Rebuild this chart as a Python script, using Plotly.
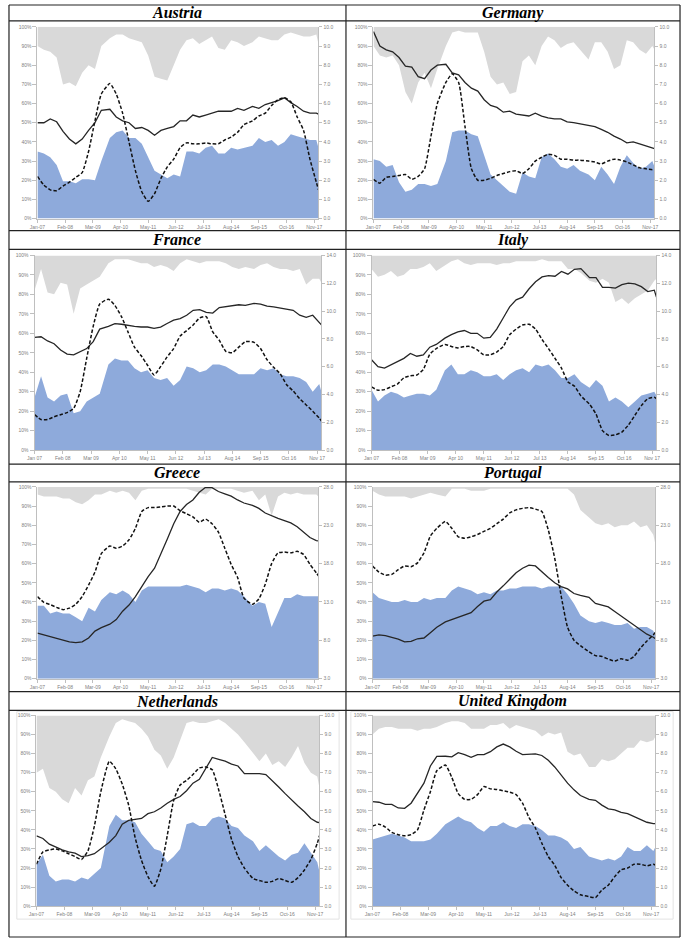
import plotly.graph_objects as go

# ---------------- data ----------------
# month index from Jan-07 (0) .. Jan-18 (132)
MONTHS = [0, 3, 6, 9, 12, 15, 18, 21, 24, 27, 30, 34, 37, 40, 43, 46, 49, 52, 55, 58, 61, 64, 67,
          70, 73, 76, 79, 82, 85, 88, 91, 94, 97, 101, 104, 107, 110, 113, 116, 119, 122, 125,
          128, 131, 132]
TICK_POS = [0, 13, 26, 39, 52, 65, 78, 91, 104, 117, 130]
TICKS_HYPHEN = ["Jan-07", "Feb-08", "Mar-09", "Apr-10", "May-11", "Jun-12", "Jul-13",
                "Aug-14", "Sep-15", "Oct-16", "Nov-17"]
TICKS_SPACE = ["Jan 07", "Feb 08", "Mar 09", "Apr 10", "May 11", "Jun 12", "Jul 13",
               "Aug 14", "Sep 15", "Oct 16", "Nov 17"]

AUT_BLUE = [35, 34, 32, 28, 19.5, 19.5, 18.5, 20.5, 20.5, 20, 30, 42, 45, 46, 42, 42, 39, 32, 25, 23,
            21, 23, 22, 35, 35, 34, 37, 38, 34, 34, 37, 36, 37, 38, 42, 40, 41, 38, 40, 44, 43, 42,
            41, 41, 37]
AUT_GREY = [90, 88, 87, 84, 70, 71, 69, 76, 80, 78, 90, 94, 96, 96, 94, 93, 92, 85, 74, 73, 72, 80,
            88, 93, 94, 91, 93, 95, 89, 88, 93, 92, 90, 92, 95, 94, 93, 93, 96, 97, 96, 95, 95, 96, 91]
AUT_SOLID = [5.0, 5.0, 5.2, 5.05, 4.55, 4.15, 3.9, 4.15, 4.6, 5.0, 5.65, 5.7, 5.3, 5.1, 5.0, 4.7,
             4.75, 4.6, 4.35, 4.6, 4.7, 4.8, 5.1, 5.1, 5.4, 5.3, 5.4, 5.5, 5.6, 5.6, 5.6, 5.75, 5.65,
             5.85, 5.75, 5.95, 6.05, 6.15, 6.3, 6.05, 5.85, 5.6, 5.5, 5.5, 5.45]
AUT_DASH = [2.2, 1.75, 1.5, 1.45, 1.7, 1.9, 2.15, 2.4, 3.5, 5.1, 6.5, 7.05, 6.5, 5.5, 4.0, 2.5, 1.4,
            0.9, 1.3, 2.1, 2.7, 3.1, 3.7, 3.95, 3.9, 3.9, 3.95, 3.9, 3.9, 4.1, 4.25, 4.5, 4.9, 5.1,
            5.35, 5.5, 5.9, 6.2, 6.3, 6.1, 5.3, 4.6, 3.1, 1.9, 1.5]

GER_BLUE = [31, 30, 27, 28, 19, 14, 15, 18, 18, 17, 18, 30, 45, 46, 46, 44, 43, 33, 23, 20, 17, 14,
            13, 24, 22, 21, 32, 34, 31, 27, 26, 28, 25, 23, 20, 27, 23, 18, 27, 33, 29, 26, 27, 30, 27]
GER_GREY = [90, 85, 84, 85, 80, 66, 60, 71, 76, 68, 78, 90, 97, 98, 97, 97, 97, 87, 74, 70, 71, 65,
            66, 82, 85, 80, 90, 95, 93, 89, 91, 92, 88, 83, 92, 92, 87, 78, 80, 93, 92, 88, 86, 90, 88]
GER_SOLID = [9.75, 9.0, 8.8, 8.7, 8.4, 7.95, 7.9, 7.4, 7.3, 7.75, 8.0, 8.05, 7.6, 7.5, 7.1, 6.8,
             6.65, 6.2, 5.9, 5.8, 5.55, 5.6, 5.45, 5.4, 5.35, 5.5, 5.35, 5.25, 5.2, 5.2, 5.05, 5.0,
             4.95, 4.85, 4.8, 4.65, 4.5, 4.3, 4.15, 3.95, 4.0, 3.9, 3.8, 3.7, 3.65]
GER_DASH = [2.05, 1.85, 2.15, 2.2, 2.25, 2.3, 2.05, 2.2, 2.6, 4.3, 6.0, 7.1, 7.55, 7.1, 4.8, 2.6,
            2.0, 2.0, 2.1, 2.25, 2.35, 2.45, 2.5, 2.35, 2.6, 3.0, 3.2, 3.35, 3.3, 3.1, 3.1, 3.05,
            3.05, 3.0, 2.95, 2.85, 3.0, 3.1, 3.05, 2.95, 2.8, 2.65, 2.6, 2.55, 2.55]

FRA_BLUE = [27, 38, 27, 25, 28, 29, 19, 20, 25, 27, 29, 44, 47, 46, 46, 42, 40, 41, 37, 36, 37, 33,
            36, 43, 42, 40, 41, 44, 44, 43, 41, 39, 39, 39, 42, 41, 42, 39, 38, 38, 37, 35, 30, 34, 30]
FRA_GREY = [82, 93, 81, 80, 86, 85, 70, 83, 85, 87, 89, 96, 98, 98, 98, 97, 96, 96, 94, 95, 94, 92,
            96, 98, 97, 96, 97, 97, 97, 96, 94, 93, 94, 93, 95, 96, 94, 93, 93, 92, 93, 85, 88, 88, 86]
FRA_SOLID = [8.1, 8.15, 7.85, 7.65, 7.2, 6.9, 6.85, 7.05, 7.3, 7.8, 8.7, 8.9, 9.1, 9.05, 8.95, 8.9,
             8.85, 8.85, 8.75, 8.85, 9.1, 9.35, 9.45, 9.7, 10.05, 10.1, 9.9, 9.85, 10.25, 10.3,
             10.35, 10.45, 10.4, 10.55, 10.5, 10.35, 10.3, 10.2, 10.1, 10.05, 9.7, 9.55, 9.7, 9.2, 9.0]
FRA_DASH = [2.55, 2.2, 2.2, 2.4, 2.55, 2.7, 3.0, 4.2, 6.6, 8.9, 10.5, 10.85, 10.4, 9.6, 8.5, 7.4,
            6.8, 6.1, 5.4, 6.0, 6.7, 7.3, 8.2, 8.6, 9.0, 9.5, 9.6, 8.5, 7.9, 7.1, 7.0, 7.4, 7.8,
            7.75, 7.3, 6.5, 5.95, 5.5, 4.7, 4.25, 3.7, 3.25, 2.8, 2.3, 2.1]

ITA_BLUE = [31, 25, 28, 30, 29, 27, 28, 29, 29, 28, 31, 41, 44, 39, 39, 41, 40, 38, 38, 39, 36, 39,
            41, 42, 40, 44, 43, 44, 41, 37, 37, 39, 35, 32, 36, 33, 25, 27, 25, 22, 25, 28, 29, 30, 28]
ITA_GREY = [93, 89, 90, 92, 89, 90, 93, 93, 94, 96, 92, 95, 97, 98, 96, 95, 96, 96, 96, 95, 96, 96,
            97, 97, 97, 97, 98, 97, 97, 97, 93, 93, 91, 87, 86, 88, 86, 76, 78, 75, 78, 80, 82, 87, 88]
ITA_SOLID = [6.5, 6.0, 5.9, 6.15, 6.35, 6.6, 6.95, 6.75, 6.85, 7.4, 7.6, 8.05, 8.3, 8.5, 8.6, 8.4,
             8.4, 8.05, 8.1, 8.7, 9.5, 10.3, 10.8, 11.0, 11.6, 12.1, 12.45, 12.55, 12.5, 12.85,
             12.65, 13.0, 13.05, 12.4, 12.4, 11.7, 11.7, 11.65, 11.9, 12.0, 11.95, 11.75, 11.4, 11.5, 11.0]
ITA_DASH = [4.55, 4.3, 4.35, 4.55, 4.75, 5.2, 5.35, 5.4, 5.8, 6.9, 7.3, 7.6, 7.45, 7.35, 7.45, 7.45,
            7.2, 6.85, 6.85, 7.05, 7.45, 8.3, 8.7, 9.0, 9.05, 8.7, 7.95, 7.3, 6.6, 5.9, 4.9, 4.6,
            3.9, 3.3, 2.6, 1.4, 1.05, 1.1, 1.3, 1.8, 2.5, 3.2, 3.7, 3.8, 3.7]

GRC_BLUE = [38, 38, 34, 35, 34, 34, 32, 30, 37, 35, 41, 45, 44, 46, 44, 40, 46, 48, 48, 48, 48, 48,
            48, 49, 48, 47, 45, 47, 47, 46, 47, 46, 43, 38, 40, 39, 27, 35, 42, 42, 44, 43, 43, 43, 43]
GRC_GREY = [96, 95, 95, 95, 94, 94, 92, 91, 93, 96, 96, 98, 97, 98, 97, 93, 98, 99, 99, 99, 99, 99,
            99, 99, 98, 97, 96, 99, 99, 99, 99, 98, 97, 98, 93, 96, 85, 95, 97, 96, 97, 96, 96, 96, 95]
GRC_SOLID = [8.93, 8.7, 8.5, 8.3, 8.05, 7.8, 7.7, 7.8, 8.3, 9.2, 9.65, 10.1, 10.7, 11.8, 12.6, 13.7,
             15.0, 16.3, 17.4, 19.2, 21.2, 23.2, 24.8, 25.7, 26.3, 27.3, 27.95, 27.9, 27.4, 27.1,
             26.8, 26.3, 25.9, 25.6, 25.2, 24.6, 24.2, 23.9, 23.6, 23.3, 22.8, 22.1, 21.4, 21.0, 20.95]
GRC_DASH = [13.7, 12.95, 12.65, 12.3, 12.0, 12.2, 12.7, 13.7, 15.2, 16.9, 19.3, 20.3, 20.0, 20.3,
            21.1, 22.6, 24.8, 25.3, 25.3, 25.4, 25.5, 25.5, 24.9, 24.5, 24.1, 23.4, 23.8, 23.2, 22.1,
            20.0, 17.9, 16.2, 13.5, 12.7, 13.4, 15.3, 18.0, 19.4, 19.5, 19.4, 19.6, 19.2, 17.9, 16.8, 16.4]

PRT_BLUE = [45, 42, 41, 40, 40, 41, 40, 40, 42, 41, 42, 42, 46, 48, 47, 46, 44, 45, 44, 46, 46, 47,
            47, 48, 48, 48, 47, 48, 48, 48, 44, 39, 33, 30, 29, 30, 29, 28, 28, 29, 26, 27, 27, 25, 22]
PRT_GREY = [98, 96, 95, 95, 95, 95, 94, 95, 96, 97, 96, 95, 99, 99, 99, 98, 98, 98, 99, 99, 99, 99,
            99, 99, 99, 99, 99, 99, 99, 99, 99, 96, 88, 84, 81, 80, 81, 79, 80, 80, 82, 79, 80, 75, 70]
PRT_SOLID = [8.55, 8.7, 8.6, 8.4, 8.15, 7.8, 7.85, 8.2, 8.3, 9.0, 9.7, 10.4, 10.7, 10.95, 11.3, 11.6,
             12.4, 13.1, 13.3, 14.3, 15.1, 16.0, 16.8, 17.4, 17.8, 17.7, 16.9, 16.2, 15.5, 15.0,
             14.7, 14.1, 13.85, 13.6, 12.8, 12.6, 12.35, 11.75, 11.15, 10.6, 9.95, 9.4, 8.8, 8.4, 8.2]
PRT_DASH = [17.7, 16.9, 16.5, 16.6, 17.2, 17.7, 17.6, 18.1, 19.4, 21.6, 22.6, 23.5, 22.6, 21.5,
            21.3, 21.5, 21.8, 22.2, 22.6, 23.2, 23.8, 24.6, 25.0, 25.2, 25.3, 25.1, 24.8, 22.4, 18.7,
            13.8, 9.7, 8.0, 7.3, 6.5, 6.0, 5.9, 5.55, 5.3, 5.6, 5.4, 5.9, 7.0, 7.9, 8.7, 9.05]

NLD_BLUE = [22, 27, 16, 13, 14, 14, 13, 15, 14, 17, 20, 42, 48, 45, 45, 44, 38, 34, 30, 29, 23, 26,
            30, 43, 44, 42, 42, 46, 47, 46, 42, 41, 37, 34, 29, 32, 29, 26, 24, 27, 28, 33, 28, 23, 18]
NLD_GREY = [70, 72, 62, 60, 56, 54, 62, 58, 66, 68, 78, 89, 96, 98, 97, 96, 93, 89, 82, 79, 72, 78,
            87, 96, 97, 96, 96, 97, 98, 96, 93, 90, 86, 80, 76, 80, 74, 76, 73, 78, 84, 75, 70, 68, 62]
NLD_SOLID = [3.69, 3.55, 3.25, 3.1, 2.95, 2.85, 2.78, 2.6, 2.65, 2.75, 3.0, 3.35, 3.7, 4.3, 4.5,
             4.55, 4.6, 4.85, 4.95, 5.15, 5.4, 5.6, 5.75, 6.05, 6.45, 6.65, 7.2, 7.8, 7.7, 7.6, 7.45,
             7.35, 6.95, 6.95, 6.95, 6.9, 6.6, 6.25, 5.9, 5.55, 5.25, 4.95, 4.6, 4.4, 4.38]
NLD_DASH = [2.2, 2.85, 2.95, 3.0, 2.9, 2.75, 2.6, 2.45, 2.9, 4.2, 6.0, 7.6, 7.2, 6.4, 5.3, 3.6, 2.4,
            1.55, 1.05, 1.95, 3.7, 5.55, 6.35, 6.6, 6.9, 7.25, 7.3, 7.15, 6.1, 4.8, 3.5, 2.6, 2.0,
            1.45, 1.35, 1.25, 1.3, 1.45, 1.35, 1.25, 1.5, 1.9, 2.45, 3.3, 3.69]

UK_BLUE = [35, 36, 37, 38, 37, 36, 34, 34, 34, 35, 38, 43, 45, 47, 45, 44, 41, 39, 42, 42, 44, 42,
           41, 43, 43, 42, 40, 37, 37, 36, 34, 30, 31, 26, 25, 24, 25, 24, 26, 31, 29, 29, 32, 29, 31]
UK_GREY = [90, 93, 94, 94, 93, 93, 93, 92, 93, 93, 94, 96, 97, 97, 96, 93, 93, 93, 95, 95, 96, 93,
           95, 94, 93, 92, 89, 91, 90, 91, 81, 79, 80, 73, 73, 77, 76, 77, 80, 83, 83, 87, 86, 87, 89]
UK_SOLID = [5.48, 5.45, 5.34, 5.34, 5.15, 5.13, 5.4, 5.95, 6.45, 7.35, 7.85, 7.86, 7.83, 8.05, 7.95,
            7.8, 7.95, 7.95, 8.1, 8.35, 8.5, 8.35, 8.12, 7.95, 7.95, 7.98, 7.9, 7.65, 7.3, 6.85,
            6.45, 6.1, 5.8, 5.6, 5.55, 5.3, 5.1, 5.05, 4.92, 4.85, 4.7, 4.55, 4.4, 4.33, 4.33]
UK_DASH = [4.2, 4.3, 4.15, 3.87, 3.75, 3.69, 3.75, 4.0, 5.05, 6.0, 7.1, 7.4, 6.75, 5.9, 5.6, 5.6,
           5.85, 6.27, 6.15, 6.12, 6.05, 5.98, 5.85, 5.4, 4.65, 4.1, 3.3, 2.6, 2.15, 1.5, 1.1, 0.8,
           0.6, 0.5, 0.45, 0.85, 1.1, 1.55, 1.91, 2.0, 2.2, 2.2, 2.12, 2.2, 2.16]

# ---------------- layout ----------------
W, H = 685, 941
BLUE = "#8eaadb"
GREY = "#d9d9d9"
AXIS = "#bfbfbf"
TICKFONT = dict(family="Liberation Sans", size=5, color="#7f7f7f")

panels = [
    dict(name="Austria", b=AUT_BLUE, g=AUT_GREY, s=AUT_SOLID, d=AUT_DASH, r=(0, 10), dt=1,
         lab=TICKS_HYPHEN, box=(30, 24, 316, 217)),
    dict(name="Germany", b=GER_BLUE, g=GER_GREY, s=GER_SOLID, d=GER_DASH, r=(0, 10), dt=1,
         lab=TICKS_HYPHEN, box=(372, 24, 658, 217)),
    dict(name="France", b=FRA_BLUE, g=FRA_GREY, s=FRA_SOLID, d=FRA_DASH, r=(0, 14), dt=2,
         lab=TICKS_SPACE, box=(27, 254, 319, 450)),
    dict(name="Italy", b=ITA_BLUE, g=ITA_GREY, s=ITA_SOLID, d=ITA_DASH, r=(0, 14), dt=2,
         lab=TICKS_SPACE, box=(370, 254, 660, 450)),
    dict(name="Greece", b=GRC_BLUE, g=GRC_GREY, s=GRC_SOLID, d=GRC_DASH, r=(3, 28), dt=5,
         lab=TICKS_HYPHEN, box=(30, 487, 316, 680)),
    dict(name="Portugal", b=PRT_BLUE, g=PRT_GREY, s=PRT_SOLID, d=PRT_DASH, r=(3, 28), dt=5,
         lab=TICKS_HYPHEN, box=(371, 487, 659, 680)),
    dict(name="Netherlands", b=NLD_BLUE, g=NLD_GREY, s=NLD_SOLID, d=NLD_DASH, r=(0, 10), dt=1,
         lab=TICKS_HYPHEN, box=(29, 717, 317, 909)),
    dict(name="United Kingdom", b=UK_BLUE, g=UK_GREY, s=UK_SOLID, d=UK_DASH, r=(0, 10), dt=1,
         lab=TICKS_HYPHEN, box=(371, 717, 659, 909)),
]
TITLE_Y = [10, 10, 238.5, 238.5, 473, 473, 702.5, 702.5]
TITLE_X = [172, 514] * 4

for p in panels:
    for k in ("b", "g", "s", "d"):
        assert len(p[k]) == len(MONTHS), (p["name"], k, len(p[k]))

fig = go.Figure()
layout = dict(width=W, height=H, margin=dict(l=0, r=0, t=0, b=0), showlegend=False,
              paper_bgcolor="white", plot_bgcolor="rgba(0,0,0,0)", annotations=[], shapes=[])

for i, p in enumerate(panels):
    xn = "x" if i == 0 else f"x{i+1}"
    yl = "y" if i == 0 else f"y{2*i+1}"
    yr = f"y{2*i+2}"
    x0, y0, x1, y1 = p["box"]
    xdom = [x0 / W, x1 / W]
    ydom = [1 - y1 / H, 1 - y0 / H]
    top = [100] * len(MONTHS)
    fig.add_trace(go.Scatter(x=MONTHS, y=p["g"], mode="lines", line=dict(width=0, color=GREY),
                             xaxis=xn, yaxis=yl, hoverinfo="skip"))
    fig.add_trace(go.Scatter(x=MONTHS, y=top, mode="lines", line=dict(width=0, color=GREY),
                             fill="tonexty", fillcolor=GREY, xaxis=xn, yaxis=yl, hoverinfo="skip"))
    fig.add_trace(go.Scatter(x=MONTHS, y=p["b"], mode="lines", line=dict(width=0, color=BLUE),
                             fill="tozeroy", fillcolor=BLUE, xaxis=xn, yaxis=yl))
    fig.add_trace(go.Scatter(x=MONTHS, y=p["s"], mode="lines",
                             line=dict(width=1.3, color="#262626"), xaxis=xn, yaxis=yr))
    fig.add_trace(go.Scatter(x=MONTHS, y=p["d"], mode="lines",
                             line=dict(width=1.5, color="#111111", dash="3.5px,2px",
                                       shape="spline", smoothing=0.5),
                             xaxis=xn, yaxis=yr))

    xkey = "xaxis" if i == 0 else f"xaxis{i+1}"
    ylkey = "yaxis" if i == 0 else f"yaxis{2*i+1}"
    yrkey = f"yaxis{2*i+2}"
    layout[xkey] = dict(domain=xdom, range=[0, 132], anchor=yl, tickmode="array",
                        tickvals=TICK_POS, ticktext=p["lab"], ticks="outside", ticklen=3,
                        tickcolor=AXIS, showline=True, linecolor=AXIS, linewidth=1,
                        tickfont=TICKFONT, showgrid=False, zeroline=False, fixedrange=True)
    layout[ylkey] = dict(domain=ydom, range=[0, 100], anchor=xn, tickmode="array",
                         tickvals=list(range(0, 101, 10)),
                         ticktext=[f"{v}%" for v in range(0, 101, 10)],
                         ticks="outside", ticklen=4, tickcolor=AXIS, showline=True,
                         linecolor=AXIS, linewidth=1, tickfont=TICKFONT, showgrid=False,
                         zeroline=False, fixedrange=True)
    layout[yrkey] = dict(domain=ydom, range=list(p["r"]), anchor=xn, overlaying=yl,
                         side="right", dtick=p["dt"], tick0=p["r"][0], tickformat=".1f",
                         ticks="outside", ticklen=3, tickcolor=AXIS, showline=True,
                         linecolor=AXIS, linewidth=1, tickfont=TICKFONT, showgrid=False,
                         zeroline=False, fixedrange=True)
    layout["annotations"].append(dict(
        text=f"<b><i>{p['name']}</i></b>", x=TITLE_X[i] / W, y=1 - TITLE_Y[i] / H,
        xref="paper", yref="paper", xanchor="center", yanchor="middle", showarrow=False,
        font=dict(family="Liberation Serif", size=16, color="black")))


def hline(y, x0=1, x1=684, color="#222222", w=1.2):
    return dict(type="line", xref="paper", yref="paper", x0=x0 / W, x1=x1 / W,
                y0=1 - y / H, y1=1 - y / H, line=dict(color=color, width=w))


def vline(x, y0, y1, color="#222222", w=1.2):
    return dict(type="line", xref="paper", yref="paper", x0=x / W, x1=x / W,
                y0=1 - y0 / H, y1=1 - y1 / H, line=dict(color=color, width=w))


# faint chart-area borders of the bottom row
for (a, b) in ((9, 337), (349, 677)):
    layout["shapes"].append(dict(type="rect", xref="paper", yref="paper", x0=a / W, x1=b / W,
                                 y0=1 - 922 / H, y1=1 - 713 / H,
                                 line=dict(color="#e3e3e3", width=1)))
for y in (2, 18, 229, 248, 464, 482, 693, 712, 940):
    layout["shapes"].append(hline(y))
layout["shapes"].append(vline(1, 2, 940))
layout["shapes"].append(vline(684, 2, 940))
layout["shapes"].append(vline(344, 2, 940))

fig.update_layout(**layout)
fig.write_html("out.html",
               config={"displayModeBar": False},
               post_script="document.body.style.margin='0px';"
                           "document.body.style.padding='0px';"
                           "document.body.style.overflow='hidden';")
